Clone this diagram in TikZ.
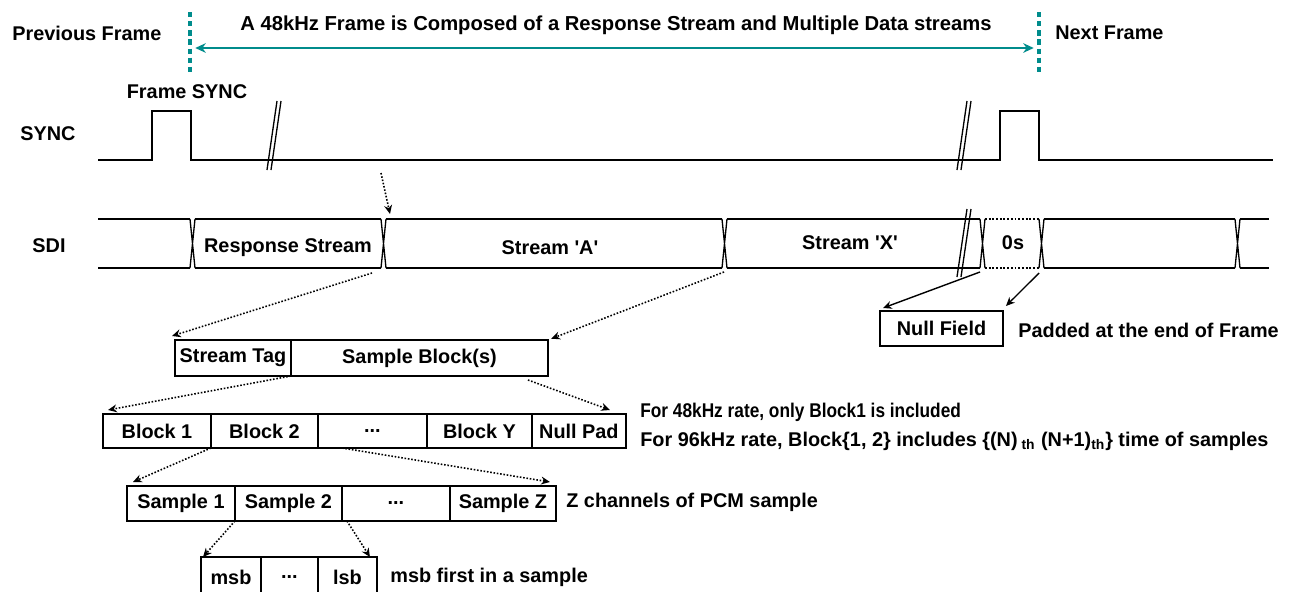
\documentclass[tikz,border=0pt]{standalone}
\usepackage{fontspec}
\setmainfont{Liberation Sans}
\newfontfamily\narrowsans[FakeStretch=0.87]{Liberation Sans}
\usetikzlibrary{positioning,arrows.meta}
\definecolor{frameteal}{RGB}{0,140,140}

\begin{document}
\begin{tikzpicture}[x=0.02cm,y=-0.02cm,
        every node/.style={font=\bfseries\fontsize{11.3}{13}\selectfont,inner sep=0pt},
        wave/.style={line width=0.75pt},
        cell/.style={draw,line width=1.1pt,minimum height=0.68cm,outer sep=0pt},
        dotarrow/.style={densely dotted,line width=0.9pt,-{Stealth[length=5pt,width=4.5pt]}},
        solidarrow/.style={line width=0.8pt,-{Stealth[length=5pt,width=4.5pt]}},
        framemark/.style={frameteal,line width=2pt,dash pattern=on 3pt off 2.2pt}]
        \useasboundingbox (0,0) rectangle (1289,592);

        % Frame boundaries
        \coordinate (fbeg) at (190,48);
        \coordinate (fend) at (1039,48);
        \draw[framemark] (190,12) -- (190,74);
        \draw[framemark] (1039,12) -- (1039,74);
        \draw[frameteal,line width=0.9pt,shorten <=3pt,shorten >=3pt,
            {Stealth[length=6pt,width=5.5pt]}-{Stealth[length=6pt,width=5.5pt]}] (fbeg) -- (fend);
        \node[anchor=west] (prev) at (12,33) {Previous Frame};
        \node[font=\bfseries\fontsize{11.5}{13}\selectfont] (title) at (616,25) {A 48kHz Frame is Composed of a Response Stream and Multiple Data streams};
        \node[anchor=west] (next) at (1055,33) {Next Frame};

        % SYNC line
        \node (fsync) at (187,92) {Frame SYNC};
        \node (synclbl) at (48,134) {SYNC};
        \draw[wave] (98,160) -- (152,160) -- (152,111) -- (191,111) -- (191,160)
            -- (1000,160) -- (1000,111) -- (1039,111) -- (1039,160) -- (1273,160);
        \foreach \x in {267,957} {
            \draw[wave] (\x,170) -- (\x+10,101); %break
            \draw[wave] (\x+4,170) -- (\x+14,101);
        }

        % SDI bus
        \node (sdilbl) at (49,246) {SDI};
        \foreach \a/\b in {98/190,195/381,386/722,727/980,1044/1235,1240/1269}
            \draw[wave] (\a,219) -- (\b,219) (\a,268) -- (\b,268);
        \draw[densely dotted,line width=1.1pt] (985,219) -- (1039,219) (985,268) -- (1039,268);
        \foreach \x in {190,381,722,980,1039,1235}
            \draw[wave] (\x,219) -- (\x+5,268) (\x+5,219) -- (\x,268); %crossing
        \draw[wave] (957,277) -- (967,209); %break
        \draw[wave] (961,277) -- (971,209);
        \node (resp) at (288,248) {Response Stream};
        \node (strA) at (550,248) {Stream \textquotesingle A\textquotesingle};
        \node (strX) at (850,243) {Stream \textquotesingle X\textquotesingle};
        \node (zeros) at (1013,243) {0s};

        \coordinate (hint) at (381,173);
        \coordinate (respend) at (390,214);
        \coordinate (respcut) at (372,273);
        \coordinate (acut) at (724,272);
        \coordinate (xcut) at (980,272);
        \coordinate (zcut) at (1039,273);
        \draw[dotarrow] (hint) -- (respend);

        % Null field
        \node[cell,minimum width=2.46cm,minimum height=0.7cm,anchor=north west] (nf) at (880,311) {Null Field};
        \node[anchor=west] (padnote) at (1018,330) {Padded at the end of Frame};
        \draw[solidarrow] (xcut) -- ([xshift=0.06cm,yshift=0.06cm]nf.north west);
        \draw[solidarrow] (zcut) -- ([xshift=0.06cm,yshift=0.1cm]nf.north east);

        % Stream layout
        \node[cell,minimum width=2.32cm,minimum height=0.72cm,anchor=north west] (tag) at (175,340) {Stream Tag};
        \node[cell,minimum width=5.14cm,minimum height=0.72cm,right=0pt of tag] (sblk) {Sample Block(s)};
        \draw[dotarrow] (respcut) -- ([xshift=-0.06cm,yshift=0.08cm]tag.north west);
        \draw[dotarrow,shorten >=2pt] (acut) -- (sblk.north east);

        % Blocks
        \node[cell,minimum width=2.16cm,anchor=north west] (blk1) at (103,414) {Block 1};
        \node[cell,minimum width=2.14cm,right=0pt of blk1] (blk2) {\raisebox{-2pt}{Block 2}};
        \node[cell,minimum width=2.18cm,right=0pt of blk2] (blkdots) {\raisebox{-2pt}{...}};
        \node[cell,minimum width=2.1cm,right=0pt of blkdots] (blkY) {Block Y};
        \node[cell,minimum width=1.88cm,right=0pt of blkY] (pad) {Null Pad};
        \draw[dotarrow] (tag.south east) -- ([xshift=0.1cm,yshift=0.08cm]blk1.north west);
        \draw[dotarrow] ([xshift=-0.4cm,yshift=-0.08cm]sblk.south east) -- ([xshift=-0.32cm,yshift=0.08cm]pad.north east);
        \node[anchor=west,font=\narrowsans\bfseries\fontsize{11.3}{13}\selectfont] (note48) at (640,412)
            {For 48kHz rate, only Block1 is included};
        \node[anchor=west] (note96) at (640,441)
            {For 96kHz rate, Block\{1, 2\} includes \{(N)\textsubscript{ th} (N+1)\textsubscript{th}\} time of samples};

        % Samples
        \node[cell,minimum width=2.16cm,minimum height=0.7cm,anchor=north west] (smp1) at (127,486) {Sample 1};
        \node[cell,minimum width=2.14cm,minimum height=0.7cm,right=0pt of smp1] (smp2) {Sample 2};
        \node[cell,minimum width=2.16cm,minimum height=0.7cm,right=0pt of smp2] (smpdots) {...};
        \node[cell,minimum width=2.12cm,minimum height=0.7cm,right=0pt of smpdots] (smpZ) {Sample Z};
        \node[anchor=west] (zch) at (566,502) {Z channels of PCM sample};
        \draw[dotarrow] (blk1.south east) -- ([xshift=0.12cm,yshift=0.08cm]smp1.north west);
        \draw[dotarrow] ([xshift=0.48cm]blk2.south east) -- ([xshift=-0.12cm,yshift=0.08cm]smpZ.north east);

        % Bits
        \node[cell,minimum width=1.2cm,minimum height=0.8cm,anchor=north west] (msb) at (201,557) {msb};
        \node[cell,minimum width=1.14cm,minimum height=0.8cm,right=0pt of msb] (bitdots) {...};
        \node[cell,minimum width=1.18cm,minimum height=0.8cm,right=0pt of bitdots] (lsb) {lsb};
        \node[anchor=west] (msbnote) at (390,577) {msb first in a sample};
        \draw[dotarrow] (smp1.south east) -- ([xshift=0.04cm]msb.north west);
        \draw[dotarrow] ([xshift=0.1cm]smp2.south east) -- ([xshift=-0.14cm]lsb.north east);
\end{tikzpicture}
\end{document}
